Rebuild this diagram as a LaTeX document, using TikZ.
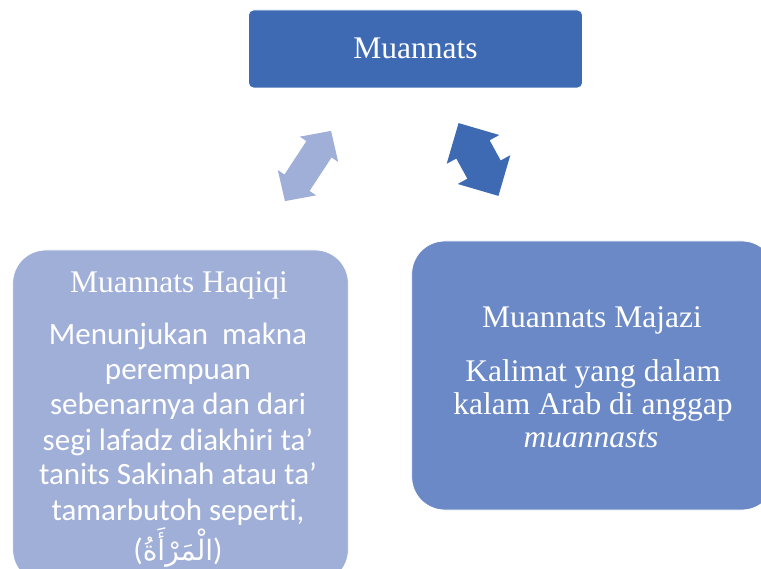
\documentclass[tikz,border=0pt]{standalone}
\usepackage{fontspec}
\setmainfont{Liberation Serif}
\newfontfamily\bodysans[Ligatures=CommonOff]{Carlito}
\newfontfamily\arabicfont[Script=Arabic]{DejaVu Sans}
\TeXXeTstate=1
\definecolor{darkblue}{RGB}{62,106,180}
\definecolor{midblue}{RGB}{107,137,199}
\definecolor{lightblue}{RGB}{160,175,216}
\begin{document}
\begin{tikzpicture}[x=1pt,y=-1pt,
  box/.style={fill=#1, draw=white, line width=0.8pt, rounded corners=33pt, inner sep=0pt},
  serifline/.style={text=white, anchor=base, inner sep=0pt, font=\fontsize{31.5}{35}\selectfont},
  sansline/.style={text=white, anchor=base, inner sep=0pt, font=\bodysans\fontsize{31}{35}\selectfont},
  blockarrow/.style={fill=#1, draw=none}]
\clip (0,0) rectangle (761,569);
% boxes
\node[box=darkblue, rounded corners=5pt, minimum width=334pt, minimum height=78pt] (top) at (415.5,49) {};
\node[box=lightblue, minimum width=335.6pt, minimum height=333pt] (left) at (180.5,416.5) {};
\node[box=midblue, minimum width=363.3pt, minimum height=269pt] (right) at (593.35,375.5) {};
% top text
\node[serifline] (toptxt) at (415.5,59) {Muannats};
% left texts
\node[serifline] (lt) at (179,293) {Muannats Haqiqi};
\node[sansline] (l1) at (178,345) {Menunjukan~ makna};
\node[sansline] (l2) at (178,380) {perempuan};
\node[sansline] (l3) at (178,415) {sebenarnya dan dari};
\node[sansline] (l4) at (178,450) {segi lafadz diakhiri ta’};
\node[sansline] (l5) at (178,485) {tanits Sakinah atau ta’};
\node[sansline] (l6) at (178,520) {tamarbutoh seperti,};
\node[text=white, anchor=base, inner sep=0pt, font=\bodysans\fontsize{31}{35}\selectfont] (l7) at (178,560) {({\arabicfont\fontsize{28}{35}\selectfont\beginR الْمَرْأَةُ\endR})};
% right texts
\node[serifline] (rt) at (592,328) {Muannats Majazi};
\node[serifline] (r1) at (593,382) {Kalimat yang dalam};
\node[serifline] (r2) at (593,415) {kalam Arab di anggap};
\node[serifline] (r3) at (591,447) {\itshape muannasts};
% arrows
\begin{scope}[shift={(308,166)}, rotate=56.7]
\fill[blockarrow=lightblue] (-42,0) -- (-20,23) -- (-20,15) -- (20,15) -- (20,23) -- (42,0) -- (20,-23) -- (20,-15) -- (-20,-15) -- (-20,-23) -- cycle;
\end{scope}
\begin{scope}[shift={(478.5,159.5)}, rotate=-61.3]
\fill[blockarrow=darkblue] (-41.5,0) -- (-11.5,30) -- (-11.5,19) -- (11.5,19) -- (11.5,30) -- (41.5,0) -- (11.5,-30) -- (11.5,-19) -- (-11.5,-19) -- (-11.5,-30) -- cycle;
\end{scope}
\end{tikzpicture}
\end{document}
